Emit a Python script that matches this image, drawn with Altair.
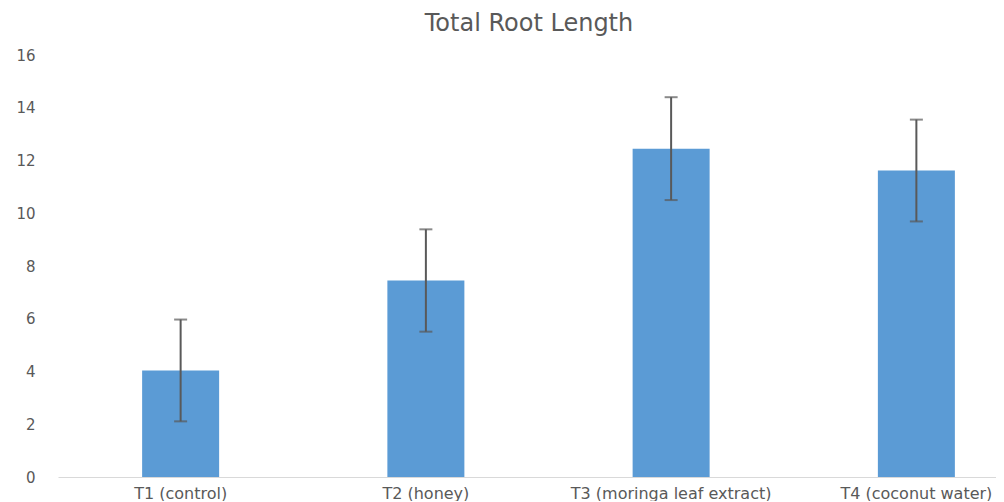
import altair as alt
import pandas as pd

categories = ["T1 (control)", "T2 (honey)", "T3 (moringa leaf extract)", "T4 (coconut water)"]
means = [4.04, 7.45, 12.45, 11.62]
errors = [1.93, 1.94, 1.95, 1.93]

df = pd.DataFrame({
    "cat": categories,
    "mean": means,
    "lo": [m - e for m, e in zip(means, errors)],
    "hi": [m + e for m, e in zip(means, errors)],
})

FONT = "DejaVu Sans"
GREY = "#595959"

x = alt.X("cat:N", sort=categories, title=None,
          scale=alt.Scale(paddingInner=0, paddingOuter=0, range=[0, 981]),
          axis=alt.Axis(labelAngle=0, ticks=False, domainColor="#D9D9D9", domainWidth=1,
                        labelFont=FONT, labelFontSize=16, labelColor=GREY, labelPadding=8,
                        labelLimit=400))

bars = alt.Chart(df).mark_bar(size=77, color="#5B9BD5").encode(
    x=x,
    y=alt.Y("mean:Q", title=None,
            scale=alt.Scale(domain=[0, 16], nice=False),
            axis=alt.Axis(values=[0, 2, 4, 6, 8, 10, 12, 14, 16], grid=False, domain=False,
                          ticks=False, labelFont=FONT, labelFontSize=15, labelColor=GREY,
                          labelPadding=23)),
)

rules = alt.Chart(df).mark_rule(color=GREY, strokeWidth=2).encode(
    x=alt.X("cat:N", sort=categories), y="lo:Q", y2="hi:Q")

cap_lo = alt.Chart(df).mark_tick(color=GREY, thickness=2, size=13).encode(
    x=alt.X("cat:N", sort=categories), y="lo:Q")
cap_hi = alt.Chart(df).mark_tick(color=GREY, thickness=2, size=13).encode(
    x=alt.X("cat:N", sort=categories), y="hi:Q")

chart = alt.layer(bars, rules, cap_lo, cap_hi).properties(
    width=938, height=422,
    autosize=alt.AutoSizeParams(type="none"),
    padding={"left": 50, "top": 47, "right": 0, "bottom": 24},
    title=alt.TitleParams("Total Root Length", font=FONT, fontSize=24, fontWeight="normal",
                          color=GREY, anchor="middle", dx=2, offset=12),
).configure_view(stroke=None)

chart.save("out.html", embed_options={"renderer": "svg", "actions": False})
